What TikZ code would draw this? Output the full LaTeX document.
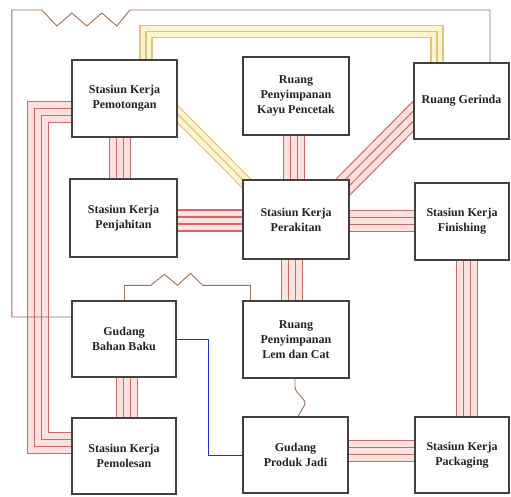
\documentclass[tikz,border=0pt]{standalone}
\usepackage{fontspec}
\setmainfont{Liberation Serif}
\usetikzlibrary{calc,backgrounds}

\definecolor{boxline}{RGB}{65,65,65}
\definecolor{boxtext}{RGB}{35,35,35}
\definecolor{redline}{RGB}{206,105,105}
\definecolor{redfill}{RGB}{251,226,222}
\definecolor{yelline}{RGB}{226,196,125}
\definecolor{yelfill}{RGB}{253,245,205}
\definecolor{brownline}{RGB}{160,112,82}
\definecolor{blueline}{RGB}{35,45,205}

\tikzset{
  box/.style={draw=boxline, line width=1.3pt, fill=white, align=center,
    inner sep=0pt, text=boxtext, font=\bfseries\fontsize{12}{15}\selectfont},
  xline/.style={draw=brownline, line width=0.9pt, line join=miter},
  oline/.style={draw=blueline, line width=1.1pt},
}

% four-line (A) bundle and three-line (E) bundle
\newcommand\Abund[1]{%
  \draw[redline, line width=22.2pt] #1;
  \draw[redfill, line width=19.8pt] #1;
  \draw[redline, line width=8.2pt] #1;
  \draw[redfill, line width=5.8pt] #1;}
\newcommand\Ebund[1]{%
  \draw[yelline, line width=13.2pt] #1;
  \draw[yelfill, line width=10.8pt] #1;
  \draw[yelline, line width=1.2pt] #1;}

\begin{document}
\begin{tikzpicture}[x=1pt, y=-1pt, line join=miter]
\useasboundingbox (0,0) rectangle (511,496);

% boxes
\node[box, minimum width=105pt, minimum height=77pt] (pemotongan) at (124.5,98.5) {Stasiun Kerja\\Pemotongan};
\node[box, minimum width=106pt, minimum height=78pt] (kayu) at (296,96) {Ruang\\Penyimpanan\\Kayu Pencetak};
\node[box, minimum width=95pt, minimum height=76pt] (gerinda) at (461.5,101) {Ruang Gerinda};
\node[box, minimum width=107pt, minimum height=78pt] (penjahitan) at (123.5,218) {Stasiun Kerja\\Penjahitan};
\node[box, minimum width=106pt, minimum height=79pt] (perakitan) at (296,219.5) {Stasiun Kerja\\Perakitan};
\node[box, minimum width=94pt, minimum height=77pt] (finishing) at (462,221.5) {Stasiun Kerja\\Finishing};
\node[box, minimum width=104pt, minimum height=76pt] (gudang) at (124,339) {Gudang\\Bahan Baku};
\node[box, minimum width=106pt, minimum height=77pt] (lem) at (296,339.5) {Ruang\\Penyimpanan\\Lem dan Cat};
\node[box, minimum width=104pt, minimum height=76pt] (pemolesan) at (124,456) {Stasiun Kerja\\Pemolesan};
\node[box, minimum width=105pt, minimum height=76pt] (produk) at (295.5,455) {Gudang\\Produk Jadi};
\node[box, minimum width=94pt, minimum height=76pt] (packaging) at (462,455) {Stasiun Kerja\\Packaging};

\begin{pgfonlayer}{background}
% A relationships (four lines)
\Abund{($(pemotongan.south)+(-4.5,0)$) -- ($(penjahitan.north)+(-3.5,0)$)}
\Abund{($(kayu.south)+(-2,0)$) -- ($(perakitan.north)+(-2,0)$)}
\Abund{($(gerinda.west)+(8,7)$) -- ($(perakitan.north east)+(-7,8)$)}
\Abund{($(penjahitan.east)+(0,2.5)$) -- ($(perakitan.west)+(0,1)$)}
\Abund{($(perakitan.east)+(0,1.5)$) -- ($(finishing.west)+(0,-0.5)$)}
\Abund{($(perakitan.south)+(-4,0)$) -- ($(lem.north)+(-4,0)$)}
\Abund{($(finishing.south)+(5,0)$) -- ($(packaging.north)+(5,0)$)}
\Abund{($(produk.east)+(0,-4)$) -- ($(packaging.west)+(0,-4)$)}
\Abund{($(gudang.south)+(3,0)$) -- ($(pemolesan.north)+(3,0)$)}
\Abund{($(pemotongan.west)+(0,13.5)$) -- ++(-33.5,0) |- ($(pemolesan.west)+(0,-13)$)}

% E relationships (three lines)
\Ebund{($(pemotongan.north)+(21.5,0)$) -- ++(0,-28) -| ($(gerinda.north)+(-24.5,0)$)}
\Ebund{($(pemotongan.east)+(-8,7.5)$) -- ($(perakitan.north west)+(8,8)$)}

% X relationships (zigzag)
\draw[xline] ($(gudang.west)+(0,-22)$) -- ++(-59.5,0) -- ++(0,-307) -- ++(30,0)
  -- ++(15,16) -- ++(15,-13) -- ++(15,13) -- ++(15,-13) -- ++(15,13) -- ++(13,-16)
  -| ($(gerinda.north)+(28.5,0)$);
\draw[xline] ($(gudang.north)+(0.5,0)$) -- ++(0,-15) -- ++(26,0) -- ++(14,-11) -- ++(13,11)
  -- ++(13,-12) -- ++(12,12) -| ($(lem.north)+(-45.5,0)$);
\draw[xline, rounded corners=3pt] ($(lem.south)+(-1,0)$) -- ++(0,11) -- ++(11,13)
  -- ($(produk.north)+(2.5,0)$);

% O relationship
\draw[oline] ($(gudang.east)+(0,0.5)$) -- ++(31.5,0) |- ($(produk.west)+(0,0.5)$);
\end{pgfonlayer}
\end{tikzpicture}
\end{document}
